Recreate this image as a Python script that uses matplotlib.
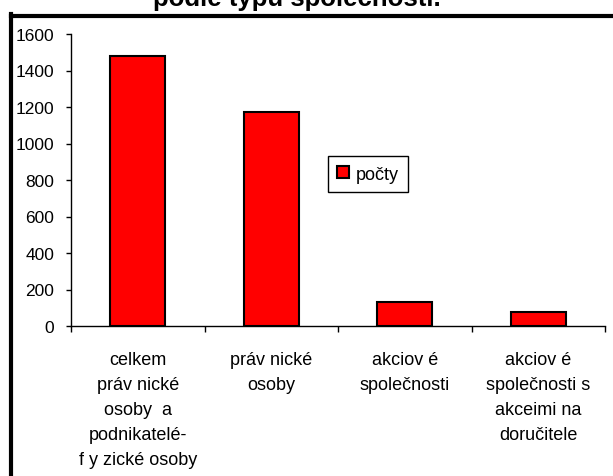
import matplotlib
matplotlib.use("Agg")
import matplotlib.pyplot as plt
from matplotlib.lines import Line2D

plt.rcParams['font.family'] = ['Liberation Sans', 'DejaVu Sans']

categories = ["celkem\npráv nické\nosoby  a\npodnikatelé-\nf y zické osoby",
              "práv nické\nosoby",
              "akciov é\nspolečnosti",
              "akciov é\nspolečnosti s\nakceimi na\ndoručitele"]
values = [1480, 1173, 131, 77]
yticks = [0, 200, 400, 600, 800, 1000, 1200, 1400, 1600]
title = "podle typu společnosti."
series_name = "počty"

W, H = 613, 477
fig = plt.figure(figsize=(W / 100, H / 100), dpi=100)
ax = fig.add_axes([71 / W, 1 - 327 / H, (605 - 71) / W, (327 - 35) / H])

x = list(range(len(values)))
ax.bar(x, values, width=0.41, color="#ff0000", edgecolor="black",
       linewidth=1.5, label=series_name, zorder=3)

ax.set_xlim(-0.5, len(values) - 0.5)
ax.set_ylim(0, 1600)
ax.set_yticks(yticks)
ax.set_yticklabels([str(v) for v in yticks], fontsize=12.5)
ax.tick_params(axis="y", direction="out", length=3.6, width=1, pad=8.5)

ax.set_xticks(x)
ax.set_xticklabels(categories, fontsize=13, linespacing=1.62)
ax.set_xticks([i - 0.5 for i in range(len(values) + 1)], minor=True)
ax.tick_params(axis="x", which="major", length=0, pad=18)
ax.tick_params(axis="x", which="minor", direction="out", length=4.5, width=1)
for lbl in ax.get_xticklabels():
    lbl.set_verticalalignment("top")

for s in ["top", "right"]:
    ax.spines[s].set_visible(False)
ax.spines["left"].set_linewidth(1)
ax.spines["bottom"].set_linewidth(1)

leg = fig.legend(loc="center", bbox_to_anchor=(368 / W, 1 - 175 / H),
                 fontsize=13, fancybox=False, edgecolor="black",
                 handlelength=0.65, handleheight=0.65, handletextpad=0.35,
                 borderpad=0.55, borderaxespad=0, framealpha=1)
leg.get_frame().set_linewidth(1)

# title cut off at the top of the picture, as in the original
fig.text(297 / W, 1 - 6 / H, title, ha="center", va="baseline",
         fontsize=18.5, fontweight="bold")

# thick chart-area frame
fig.add_artist(Line2D([10.5 / W, 10.5 / W], [0, 1 - 15 / H], color="black",
                      linewidth=3, transform=fig.transFigure, solid_capstyle="projecting"))
fig.add_artist(Line2D([10.5 / W, 1], [1 - 17 / H, 1 - 17 / H], color="black",
                      linewidth=3, transform=fig.transFigure, solid_capstyle="projecting"))

fig.savefig("out.png", dpi=100)
